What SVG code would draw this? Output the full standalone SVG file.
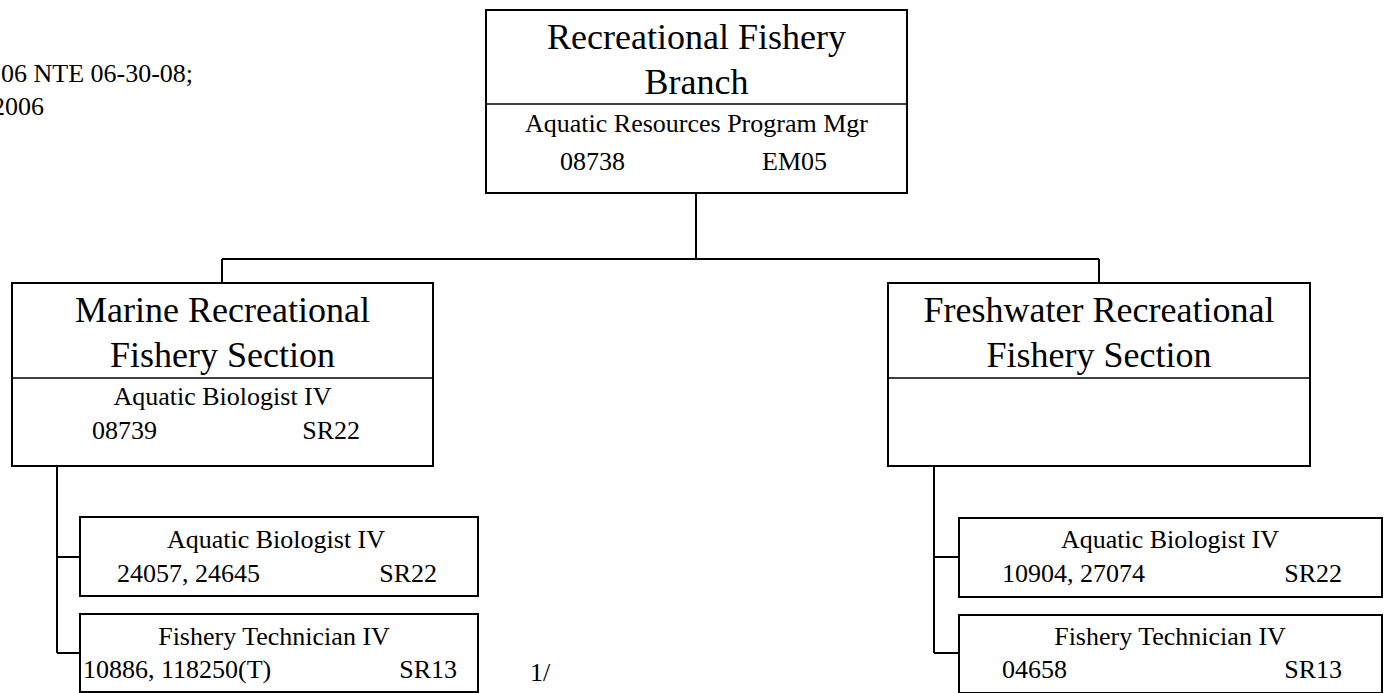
<svg xmlns="http://www.w3.org/2000/svg" width="1385" height="693" viewBox="0 0 1385 693">
<style>
.box{fill:#fff;stroke:#000;stroke-width:2}
.div{stroke:#000;stroke-width:1.5}
.con{fill:none;stroke:#000;stroke-width:2}
.t{font-family:"Liberation Serif","Times New Roman",serif;fill:#000}
.h{font-size:36px}
.d{font-size:26px}
.c{text-anchor:middle}
.e{text-anchor:end}
</style>
<rect width="1385" height="693" fill="#fff"/>
<g id="note">
<text class="t d" x="1" y="82">06 NTE 06-30-08;</text>
<text class="t d" x="-8" y="115">2006</text>
</g>
<g id="connectors">
<path class="con" d="M696,193 V259 M222,259 H1099 M222,259 V283 M1099,259 V283"/>
<path class="con" d="M57,466 V653 M57,557 H80 M57,653 H80"/>
<path class="con" d="M934,466 V653 M934,557 H959 M934,653 H959"/>
</g>
<g id="branch">
<rect class="box" x="486" y="10" width="421" height="183"/>
<line class="div" x1="486" y1="104" x2="907" y2="104"/>
<text class="t h c" x="696.5" y="49">Recreational Fishery</text>
<text class="t h c" x="696.5" y="94">Branch</text>
<text class="t d c" x="696.5" y="132">Aquatic Resources Program Mgr</text>
<text class="t d" x="560" y="170">08738</text>
<text class="t d e" x="827" y="170">EM05</text>
</g>
<g id="marine">
<rect class="box" x="12" y="283" width="421" height="183"/>
<line class="div" x1="12" y1="378" x2="433" y2="378"/>
<text class="t h c" x="222.5" y="322">Marine Recreational</text>
<text class="t h c" x="222.5" y="367">Fishery Section</text>
<text class="t d c" x="222.5" y="405">Aquatic Biologist IV</text>
<text class="t d" x="92" y="439">08739</text>
<text class="t d e" x="360" y="439">SR22</text>
</g>
<g id="freshwater">
<rect class="box" x="888" y="283" width="422" height="183"/>
<line class="div" x1="888" y1="378" x2="1310" y2="378"/>
<text class="t h c" x="1099" y="322">Freshwater Recreational</text>
<text class="t h c" x="1099" y="367">Fishery Section</text>
</g>
<g id="marine-bio">
<rect class="box" x="80" y="517" width="398" height="79"/>
<text class="t d c" x="276" y="548">Aquatic Biologist IV</text>
<text class="t d" x="117" y="582">24057, 24645</text>
<text class="t d e" x="437" y="582">SR22</text>
</g>
<g id="marine-tech">
<rect class="box" x="80" y="614" width="398" height="78"/>
<text class="t d c" x="274" y="645">Fishery Technician IV</text>
<text class="t d" x="83" y="678">10886, 118250(T)</text>
<text class="t d e" x="457" y="678">SR13</text>
</g>
<text class="t d" x="530" y="681">1/</text>
<g id="fresh-bio">
<rect class="box" x="959" y="518" width="423" height="79"/>
<text class="t d c" x="1170" y="548">Aquatic Biologist IV</text>
<text class="t d" x="1002" y="582">10904, 27074</text>
<text class="t d e" x="1342" y="582">SR22</text>
</g>
<g id="fresh-tech">
<rect class="box" x="959" y="615" width="423" height="78"/>
<text class="t d c" x="1170" y="645">Fishery Technician IV</text>
<text class="t d" x="1002" y="678">04658</text>
<text class="t d e" x="1342" y="678">SR13</text>
</g>
</svg>
